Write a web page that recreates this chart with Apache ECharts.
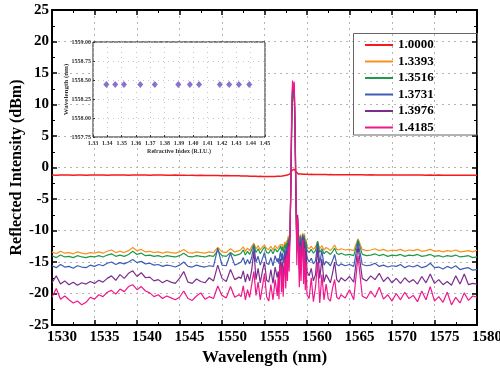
<!DOCTYPE html>
<html>
<head>
<meta charset="utf-8">
<script src="https://cdn.jsdelivr.net/npm/echarts@6/dist/echarts.min.js"></script>
<style>
  html, body { margin: 0; padding: 0; background: #fff; }
  #chart { width: 500px; height: 369px; }
</style>
</head>
<body>
<div id="chart"></div>
<script>
// ===== data: reflection spectra (dBm) per refractive index =====
// sample grid: 0.5 nm, 0.25 nm in the noisy zone, 0.1 nm around the peak
const wavelengths = [
  1530, 1530.5, 1531, 1531.5, 1532, 1532.5, 1533, 1533.5, 1534, 1534.5,
  1535, 1535.5, 1536, 1536.5, 1537, 1537.5, 1538, 1538.5, 1539, 1539.5,
  1540, 1540.5, 1541, 1541.5, 1542, 1542.5, 1543, 1543.5, 1544, 1544.5,
  1545, 1545.5, 1546, 1546.5, 1547, 1547.5, 1548, 1548.5, 1549, 1549.5,
  1550, 1550.5, 1551, 1551.5, 1552,
  1552.25, 1552.5, 1552.75, 1553, 1553.25, 1553.5, 1553.75, 1554, 1554.25, 1554.5,
  1554.75, 1555, 1555.25, 1555.5, 1555.75, 1556, 1556.25, 1556.5,
  1556.6, 1556.7, 1556.8, 1556.9,
  1557.0, 1557.1, 1557.2, 1557.3, 1557.4, 1557.5, 1557.6, 1557.7, 1557.8, 1557.9,
  1558.0, 1558.1, 1558.2, 1558.3, 1558.4, 1558.5, 1558.6, 1558.7, 1558.8, 1558.9,
  1559.0, 1559.1, 1559.2, 1559.3, 1559.4, 1559.5, 1559.6, 1559.7, 1559.8, 1559.9,
  1560.0,
  1560.25, 1560.5, 1560.75, 1561, 1561.25, 1561.5, 1561.75, 1562, 1562.25, 1562.5,
  1562.75, 1563, 1563.25, 1563.5, 1563.75, 1564,
  1564.5, 1565, 1565.5, 1566, 1566.5, 1567, 1567.5, 1568, 1568.5, 1569,
  1569.5, 1570, 1570.5, 1571, 1571.5, 1572, 1572.5, 1573, 1573.5, 1574,
  1574.5, 1575, 1575.5, 1576, 1576.5, 1577, 1577.5, 1578, 1578.5, 1579,
  1579.5, 1580
];

const ri10000 = [
  -1.2, -1.22, -1.18, -1.21, -1.2, -1.23, -1.19, -1.2, -1.22, -1.2,
  -1.21, -1.19, -1.2, -1.22, -1.2, -1.18, -1.21, -1.2, -1.22, -1.19,
  -1.2, -1.21, -1.2, -1.22, -1.19, -1.21, -1.2, -1.22, -1.23, -1.21,
  -1.24, -1.22, -1.25, -1.23, -1.26, -1.24, -1.27, -1.25, -1.28, -1.26,
  -1.3, -1.28, -1.3, -1.32, -1.31,
  -1.33, -1.35, -1.34, -1.36, -1.38, -1.37, -1.4, -1.39, -1.41, -1.4,
  -1.42, -1.41, -1.43, -1.42, -1.44, -1.43, -1.42, -1.4,
  -1.4, -1.41, -1.39, -1.38,
  -1.36, -1.35, -1.33, -1.3, -1.28, -1.25, -1.22, -1.2, -1.15, -1.1,
  -1.0, -0.8, -0.5, -0.3, -0.2, -0.25, -0.4, -0.7, -0.9, -1.0,
  -1.05, -1.03, -1.06, -1.04, -1.07, -1.05, -1.08, -1.06, -1.08, -1.07,
  -1.09,
  -1.1, -1.09, -1.11, -1.1, -1.12, -1.11, -1.12, -1.13, -1.12, -1.14,
  -1.13, -1.14, -1.15, -1.14, -1.15, -1.16,
  -1.15, -1.16, -1.17, -1.16, -1.17, -1.18, -1.17, -1.18, -1.19, -1.18,
  -1.19, -1.2, -1.19, -1.2, -1.21, -1.2, -1.21, -1.2, -1.21, -1.22,
  -1.21, -1.22, -1.21, -1.22, -1.23, -1.22, -1.23, -1.22, -1.23, -1.24,
  -1.23, -1.24
];

const ri13393 = [
  -13.4, -13.7, -13.3, -13.6, -13.5, -13.7, -13.4, -13.6, -13.7, -13.5,
  -13.6, -13.4, -13.6, -13.3, -13.1, -13.5, -13.3, -13.5, -13.2, -12.7,
  -13.2, -13.0, -13.4, -13.3, -13.5, -13.4, -13.6, -13.4, -13.5, -13.6,
  -13.4, -13.0, -13.5, -13.6, -13.4, -13.5, -13.6, -13.4, -13.5, -12.7,
  -13.4, -13.5, -12.9, -13.4, -13.2,
  -13.0, -12.6, -13.3, -12.8, -13.2, -12.5, -12.0, -12.9, -12.4, -13.1,
  -12.6, -12.3, -12.9, -13.0, -12.5, -13.1, -12.4, -12.9,
  -12.6, -13.0, -12.3, -12.0,
  -12.6, -12.2, -12.9, -12.4, -11.8, -12.5, -11.6, -12.2, -10.8, -11.5,
  -10.5, -4, 6, 11.5, 10.5, 12.0, 4, -6, -11.5, -8.5,
  -11.2, -12.5, -10.6, -12.2, -11.0, -10.4, -12.0, -10.5, -12.3, -11.4,
  -12.6,
  -12.9, -12.5, -13.0, -12.6, -11.8, -12.9, -12.4, -13.1, -12.7, -12.9,
  -13.2, -12.8, -12.3, -13.0, -13.1, -12.9,
  -13.1, -13.0, -13.2, -11.3, -13.0, -13.2, -13.1, -12.9, -13.2, -13.0,
  -13.3, -13.1, -13.2, -13.0, -13.3, -13.1, -13.2, -13.0, -13.3, -13.2,
  -13.0, -13.3, -13.2, -13.4, -13.2, -13.3, -13.1, -13.4, -13.3, -13.2,
  -13.4, -13.1
];

const ri13516 = [
  -14.0, -14.3, -13.9, -14.2, -14.1, -14.3, -14.0, -14.2, -14.3, -14.1,
  -14.2, -14.0, -14.2, -13.9, -13.7, -14.1, -13.9, -14.1, -13.8, -13.3,
  -13.8, -13.6, -14.0, -13.9, -14.1, -14.0, -14.2, -14.0, -14.1, -14.2,
  -14.0, -13.6, -14.1, -14.2, -14.0, -14.1, -14.2, -14.0, -14.1, -13.2,
  -14.0, -14.1, -13.5, -14.0, -13.8,
  -13.6, -13.1, -13.9, -13.3, -13.8, -13.0, -12.2, -13.5, -12.9, -13.7,
  -13.1, -12.6, -13.5, -13.6, -13.0, -13.7, -12.9, -13.4,
  -13.1, -13.6, -12.8, -12.4,
  -13.2, -12.6, -13.5, -12.9, -12.2, -13.0, -12.0, -12.8, -11.2, -12.0,
  -10.8, -3.5, 6.5, 12.0, 11.0, 12.3, 4.5, -5.5, -11.8, -8.8,
  -11.6, -13.0, -10.8, -12.7, -11.4, -10.6, -12.5, -10.8, -12.8, -11.8,
  -13.1,
  -13.5, -13.0, -13.6, -13.2, -11.7, -13.5, -12.9, -13.7, -13.3, -13.5,
  -13.8, -13.4, -12.8, -13.6, -13.8, -13.6,
  -13.9, -13.8, -14.0, -11.5, -13.8, -14.0, -13.9, -13.7, -14.0, -13.8,
  -14.1, -13.9, -14.0, -13.8, -14.1, -13.9, -14.0, -13.8, -14.1, -14.0,
  -13.8, -14.1, -14.0, -14.2, -14.0, -14.1, -13.9, -14.2, -14.1, -14.0,
  -14.3, -14.2
];

const ri13731 = [
  -15.6, -15.9, -15.4, -15.8, -15.7, -16.0, -15.6, -15.8, -15.9, -15.5,
  -15.7, -15.4, -15.6, -15.2, -15.0, -15.4, -15.1, -15.3, -15.0, -14.6,
  -15.1, -14.9, -15.3, -15.2, -15.5, -15.4, -15.7, -15.5, -15.6, -15.8,
  -15.5, -15.0, -15.7, -15.8, -15.5, -15.7, -15.8, -15.6, -15.7, -12.8,
  -15.5, -15.6, -13.6, -15.5, -15.2,
  -15.0, -14.3, -15.4, -14.6, -15.3, -14.2, -12.4, -15.0, -14.1, -15.5,
  -14.5, -13.5, -15.2, -15.4, -14.3, -15.6, -14.0, -15.0,
  -14.4, -15.3, -13.9, -13.3,
  -14.8, -13.6, -15.2, -14.0, -13.0, -14.6, -12.5, -14.2, -11.5, -12.8,
  -10.9, -3, 7.5, 12.6, 11.8, 12.8, 5.5, -4.5, -12.5, -8.0,
  -12.2, -14.2, -11.0, -13.8, -12.0, -10.8, -13.5, -11.2, -14.0, -12.5,
  -14.3,
  -15.0, -14.4, -15.3, -14.8, -12.0, -15.2, -13.2, -15.5, -14.9, -15.2,
  -15.6, -14.8, -13.8, -15.4, -15.6, -15.3,
  -15.6, -15.4, -15.7, -11.8, -15.4, -15.6, -15.5, -15.2, -15.7, -15.5,
  -15.8, -15.6, -15.7, -15.4, -15.9, -15.6, -15.8, -15.5, -15.9, -15.7,
  -15.2, -15.9, -15.8, -16.1, -15.7, -16.0, -15.6, -16.2, -16.0, -15.9,
  -16.3, -16.2
];

const ri13976 = [
  -18.3, -17.2, -18.5, -18.0, -18.6, -18.2, -18.7, -18.3, -18.5, -18.1,
  -18.4, -17.9, -18.2, -17.6, -17.2, -17.9, -17.0, -17.6, -16.8, -16.4,
  -17.3, -16.7, -17.5, -17.4, -18.0, -17.8, -18.3, -17.9, -18.2, -18.4,
  -17.6, -16.5, -18.2, -18.4, -17.7, -18.1, -18.3, -17.5, -18.0, -15.5,
  -17.6, -18.1, -16.2, -17.8, -17.4,
  -17.6, -16.4, -18.2, -16.9, -18.0, -16.2, -13.2, -17.8, -16.0, -18.3,
  -16.5, -15.0, -17.9, -18.2, -16.2, -18.4, -15.8, -17.5,
  -16.5, -18.0, -15.4, -14.5,
  -17.2, -15.0, -17.8, -15.6, -13.8, -16.8, -13.2, -16.0, -12.0, -14.5,
  -10.5, -2.5, 8.0, 12.8, 12.0, 13.0, 6, -4, -13.5, -7.5,
  -13.0, -16.2, -11.8, -15.5, -12.8, -11.0, -15.2, -11.8, -16.0, -13.2,
  -16.5,
  -17.2, -16.0, -18.0, -17.0, -12.8, -17.6, -14.5, -18.2, -17.0, -17.6,
  -18.3, -16.8, -15.0, -17.8, -18.2, -17.5,
  -18.0, -17.3, -18.2, -12.5, -17.6, -18.0, -17.2, -17.8, -16.8, -18.1,
  -17.4, -18.3, -17.6, -18.4, -17.5, -18.2, -17.8, -18.5, -17.3, -18.3,
  -16.9, -18.4, -17.8, -18.6, -18.1, -18.7, -17.2, -18.5, -16.9, -18.6,
  -18.4, -18.5
];

const ri14185 = [
  -20.6, -19.2, -20.9, -20.4, -21.0, -21.5, -21.2, -21.8, -21.4, -20.6,
  -20.9, -20.2, -20.5, -19.8, -19.5, -20.1, -19.3, -19.7, -18.9, -18.6,
  -19.4, -18.9, -19.6, -19.9, -20.5, -20.2, -20.8, -20.4, -20.7, -21.0,
  -20.6, -19.6, -20.8, -21.1, -20.4, -19.9, -20.9, -20.5, -20.8, -18.8,
  -20.3, -20.7, -18.9, -20.6, -20.2,
  -20.5, -18.8, -21.0, -19.4, -20.6, -18.5, -16.5, -20.3, -18.2, -21.0,
  -19.0, -16.8, -20.5, -21.2, -18.6, -21.0, -17.8, -20.4,
  -17.5, -20.9, -16.2, -15.5,
  -19.8, -15.8, -20.5, -17.0, -14.5, -19.2, -13.8, -18.0, -12.5, -16.5,
  -11.0, -2.0, 9.0, 13.8, 12.2, 13.6, 6.5, -3.5, -15.5, -8.0,
  -14.0, -19.0, -12.5, -18.0, -13.5, -11.5, -18.5, -12.8, -19.5, -15.0,
  -20.2,
  -20.8, -17.5, -21.3, -19.0, -15.0, -21.5, -17.0, -21.0, -18.5, -20.8,
  -21.2, -19.2, -17.8, -20.6, -20.9, -20.2,
  -20.7, -19.4, -21.0, -14.0, -20.4, -20.8, -19.6, -20.6, -19.0, -20.9,
  -20.2, -21.2, -20.0, -21.0, -19.8, -20.8, -20.3, -21.3, -19.6, -21.0,
  -18.9, -21.2, -20.5, -21.4, -19.8, -21.8, -20.6, -21.5, -19.9, -21.1,
  -20.4, -20.6
];

const seriesNames = ["1.0000", "1.3393", "1.3516", "1.3731", "1.3976", "1.4185"];
const seriesValues = [ri10000, ri13393, ri13516, ri13731, ri13976, ri14185];
const seriesColors = ["#f41a1e", "#f7921e", "#1f9a48", "#3f5cb4", "#7b2d8e", "#f0168c"];

// ===== inset: peak wavelength vs refractive index =====
const insetIndex = [1.3393, 1.3455, 1.3516, 1.3630, 1.3731, 1.3895, 1.3976, 1.4040, 1.4185, 1.4250, 1.4318, 1.4390];
const insetPeak = [1558.44, 1558.44, 1558.44, 1558.44, 1558.44, 1558.44, 1558.44, 1558.44, 1558.44, 1558.44, 1558.44, 1558.44];

// ===== style =====
const FONT = "'Liberation Serif', 'DejaVu Serif', serif";
const GRID_LINE = { show: true, lineStyle: { color: "#b4b4b4", type: [2, 4], width: 1 } };

const mainTicks = {
  axisLine: { show: true, onZero: false, lineStyle: { color: "#000", width: 2 } },
  axisTick: { show: true, inside: true, length: 5, lineStyle: { color: "#000", width: 1.5 } },
  minorTick: { show: true, splitNumber: 2, length: 3, lineStyle: { color: "#000", width: 1 } },
};

const labelStyle = { color: "#000", fontFamily: FONT, fontWeight: "bold", fontSize: 15,
  formatter: (v) => String(v) };

const chart = echarts.init(document.getElementById("chart"), null, { renderer: "canvas" });

const option = {
  animation: false,
  backgroundColor: "#fff",
  grid: [
    { left: 52, right: 23, top: 10, bottom: 44, outerBoundsMode: "none", containLabel: false },
    { left: 93, top: 42, width: 172, height: 95, show: true, z: 3,
      outerBoundsMode: "none", containLabel: false,
      backgroundColor: "#fff", borderColor: "#222", borderWidth: 1 },
  ],
  xAxis: [
    {
      type: "value", gridIndex: 0, position: "bottom",
      min: 1530, max: 1580, interval: 5,
      ...mainTicks,
      splitLine: GRID_LINE,
      // labels in the original sit ~10px right of their ticks
      axisLabel: { ...labelStyle, margin: 5, padding: [0, 0, 0, 20] },
      name: "Wavelength (nm)", nameLocation: "middle", nameGap: 24, nameMoveOverlap: false,
      nameTextStyle: { color: "#000", fontFamily: FONT, fontWeight: "bold", fontSize: 17 },
    },
    {
      type: "value", gridIndex: 0, position: "top",
      min: 1530, max: 1580, interval: 5,
      ...mainTicks,
      splitLine: { show: false }, axisLabel: { show: false },
    },
    {
      type: "value", gridIndex: 1, position: "bottom", z: 4,
      min: 1.33, max: 1.45, interval: 0.01,
      axisLine: { show: false },
      axisTick: { show: true, inside: true, length: 2, lineStyle: { color: "#333" } },
      splitLine: { show: true, lineStyle: { color: "#c8c8c8", type: [1, 4] } },
      axisLabel: { color: "#333", fontFamily: FONT, fontWeight: "bold", fontSize: 6, margin: 3,
        formatter: (v) => v.toFixed(2) },
      name: "Refractive Index (R.I.U.)", nameLocation: "middle", nameGap: 11, nameMoveOverlap: false,
      nameTextStyle: { color: "#333", fontFamily: FONT, fontWeight: "bold", fontSize: 6 },
    },
  ],
  yAxis: [
    {
      type: "value", gridIndex: 0, position: "left",
      min: -25, max: 25, interval: 5,
      ...mainTicks,
      splitLine: GRID_LINE,
      axisLabel: { ...labelStyle, margin: 3 },
      name: "Reflected Intensity (dBm)", nameLocation: "middle", nameGap: 27, nameMoveOverlap: false,
      nameTextStyle: { color: "#000", fontFamily: FONT, fontWeight: "bold", fontSize: 16 },
    },
    {
      type: "value", gridIndex: 0, position: "right",
      min: -25, max: 25, interval: 5,
      ...mainTicks,
      splitLine: { show: false }, axisLabel: { show: false },
    },
    {
      type: "value", gridIndex: 1, position: "left", z: 4,
      min: 1557.75, max: 1559.0, interval: 0.25,
      axisLine: { show: false },
      axisTick: { show: true, inside: true, length: 2, lineStyle: { color: "#333" } },
      splitLine: { show: true, lineStyle: { color: "#c8c8c8", type: [1, 4] } },
      axisLabel: { color: "#333", fontFamily: FONT, fontWeight: "bold", fontSize: 6, margin: 2,
        formatter: (v) => v.toFixed(2) },
      name: "Wavelength (nm)", nameLocation: "middle", nameGap: 23, nameMoveOverlap: false,
      nameTextStyle: { color: "#333", fontFamily: FONT, fontWeight: "bold", fontSize: 7 },
    },
  ],
  legend: {
    data: seriesNames,
    orient: "vertical",
    left: 360, top: 33, padding: 5,
    itemGap: 2.5, itemWidth: 28, itemHeight: 2,
    icon: "rect",
    textStyle: { color: "#000", fontFamily: FONT, fontWeight: "bold", fontSize: 13, lineHeight: 14 },
  },
  graphic: [
    // legend frame
    { type: "rect", z: 10, shape: { x: 353.5, y: 33.5, width: 124, height: 101.5 },
      style: { fill: "none", stroke: "#666", lineWidth: 1 } },
  ],
  series: [
    ...seriesNames.map((name, k) => ({
      name,
      type: "line",
      xAxisIndex: 0, yAxisIndex: 0,
      data: wavelengths.map((w, i) => [w, seriesValues[k][i]]),
      symbol: "none",
      color: seriesColors[k],
      lineStyle: { color: seriesColors[k], width: k === 0 ? 1.5 : 1.2 },
      z: 2 + k * 0.1,
    })),
    {
      name: "inset",
      type: "scatter",
      xAxisIndex: 2, yAxisIndex: 2,
      data: insetIndex.map((x, i) => [x, insetPeak[i]]),
      symbol: "diamond", symbolSize: [6, 7],
      itemStyle: { color: "#6a4fc0" },
      z: 5,
    },
  ],
};

chart.setOption(option);
</script>
</body>
</html>
